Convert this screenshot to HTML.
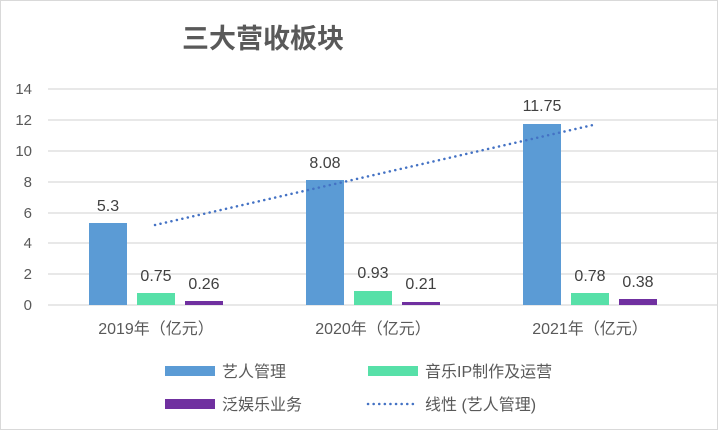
<!DOCTYPE html>
<html><head><meta charset="utf-8"><style>
html,body{margin:0;padding:0;background:#fff;}
svg{display:block;font-family:"Liberation Sans","Noto Sans CJK SC",sans-serif;}
</style></head><body>
<svg width="718" height="430" viewBox="0 0 718 430">
<rect x="0.5" y="0.5" width="717" height="429" fill="#fff" stroke="#d9d9d9"/>
<text x="263" y="48" text-anchor="middle" font-size="27" font-weight="bold" fill="#595959" font-family="'Noto Sans CJK SC',sans-serif">三大营收板块</text>
<g stroke="#d9d9d9" stroke-width="1.3">
<line x1="48" x2="718" y1="89" y2="89"/><line x1="48" x2="718" y1="120" y2="120"/>
<line x1="48" x2="718" y1="151" y2="151"/><line x1="48" x2="718" y1="182" y2="182"/>
<line x1="48" x2="718" y1="213" y2="213"/><line x1="48" x2="718" y1="243" y2="243"/>
<line x1="48" x2="718" y1="274" y2="274"/><line x1="48" x2="718" y1="305" y2="305"/>
</g>
<g font-size="15" fill="#595959" text-anchor="end">
<text x="32" y="94">14</text><text x="32" y="125">12</text><text x="32" y="156">10</text>
<text x="32" y="187">8</text><text x="32" y="218">6</text><text x="32" y="248">4</text>
<text x="32" y="279">2</text><text x="32" y="310">0</text>
</g>
<g fill="#5b9bd5">
<rect x="89" y="223" width="38" height="82"/><rect x="306" y="180" width="38" height="125"/><rect x="523" y="124" width="38" height="181"/>
</g>
<g fill="#57e0a8">
<rect x="137" y="293" width="38" height="12"/><rect x="354" y="291" width="38" height="14"/><rect x="571" y="293" width="38" height="12"/>
</g>
<g fill="#7030a0">
<rect x="185" y="301" width="38" height="4"/><rect x="402" y="302" width="38" height="3"/><rect x="619" y="299" width="38" height="6"/>
</g>
<line x1="155" y1="225" x2="593" y2="125" stroke="#4472c4" stroke-width="2.5" stroke-dasharray="0.1 5.5" stroke-linecap="round"/>
<g font-size="16" fill="#404040" text-anchor="middle">
<text x="108" y="211">5.3</text><text x="156" y="281">0.75</text><text x="204" y="289">0.26</text>
<text x="325" y="168">8.08</text><text x="373" y="278">0.93</text><text x="421" y="289">0.21</text>
<text x="542" y="111">11.75</text><text x="590" y="281">0.78</text><text x="638" y="287">0.38</text>
</g>
<g font-size="16" fill="#595959" text-anchor="middle">
<text x="156" y="334">2019年（亿元）</text><text x="373" y="334">2020年（亿元）</text><text x="590" y="334">2021年（亿元）</text>
</g>
<rect x="165" y="366" width="50" height="10" fill="#5b9bd5"/>
<rect x="368" y="366" width="50" height="10" fill="#57e0a8"/>
<rect x="165" y="399" width="50" height="10" fill="#7030a0"/>
<line x1="368" y1="404" x2="418" y2="404" stroke="#4472c4" stroke-width="2.5" stroke-dasharray="0.1 5.5" stroke-linecap="round"/>
<g font-size="16" fill="#595959">
<text x="222" y="377">艺人管理</text><text x="425" y="377">音乐IP制作及运营</text>
<text x="222" y="410">泛娱乐业务</text><text x="425" y="410">线性 (艺人管理)</text>
</g>
</svg>
</body></html>
